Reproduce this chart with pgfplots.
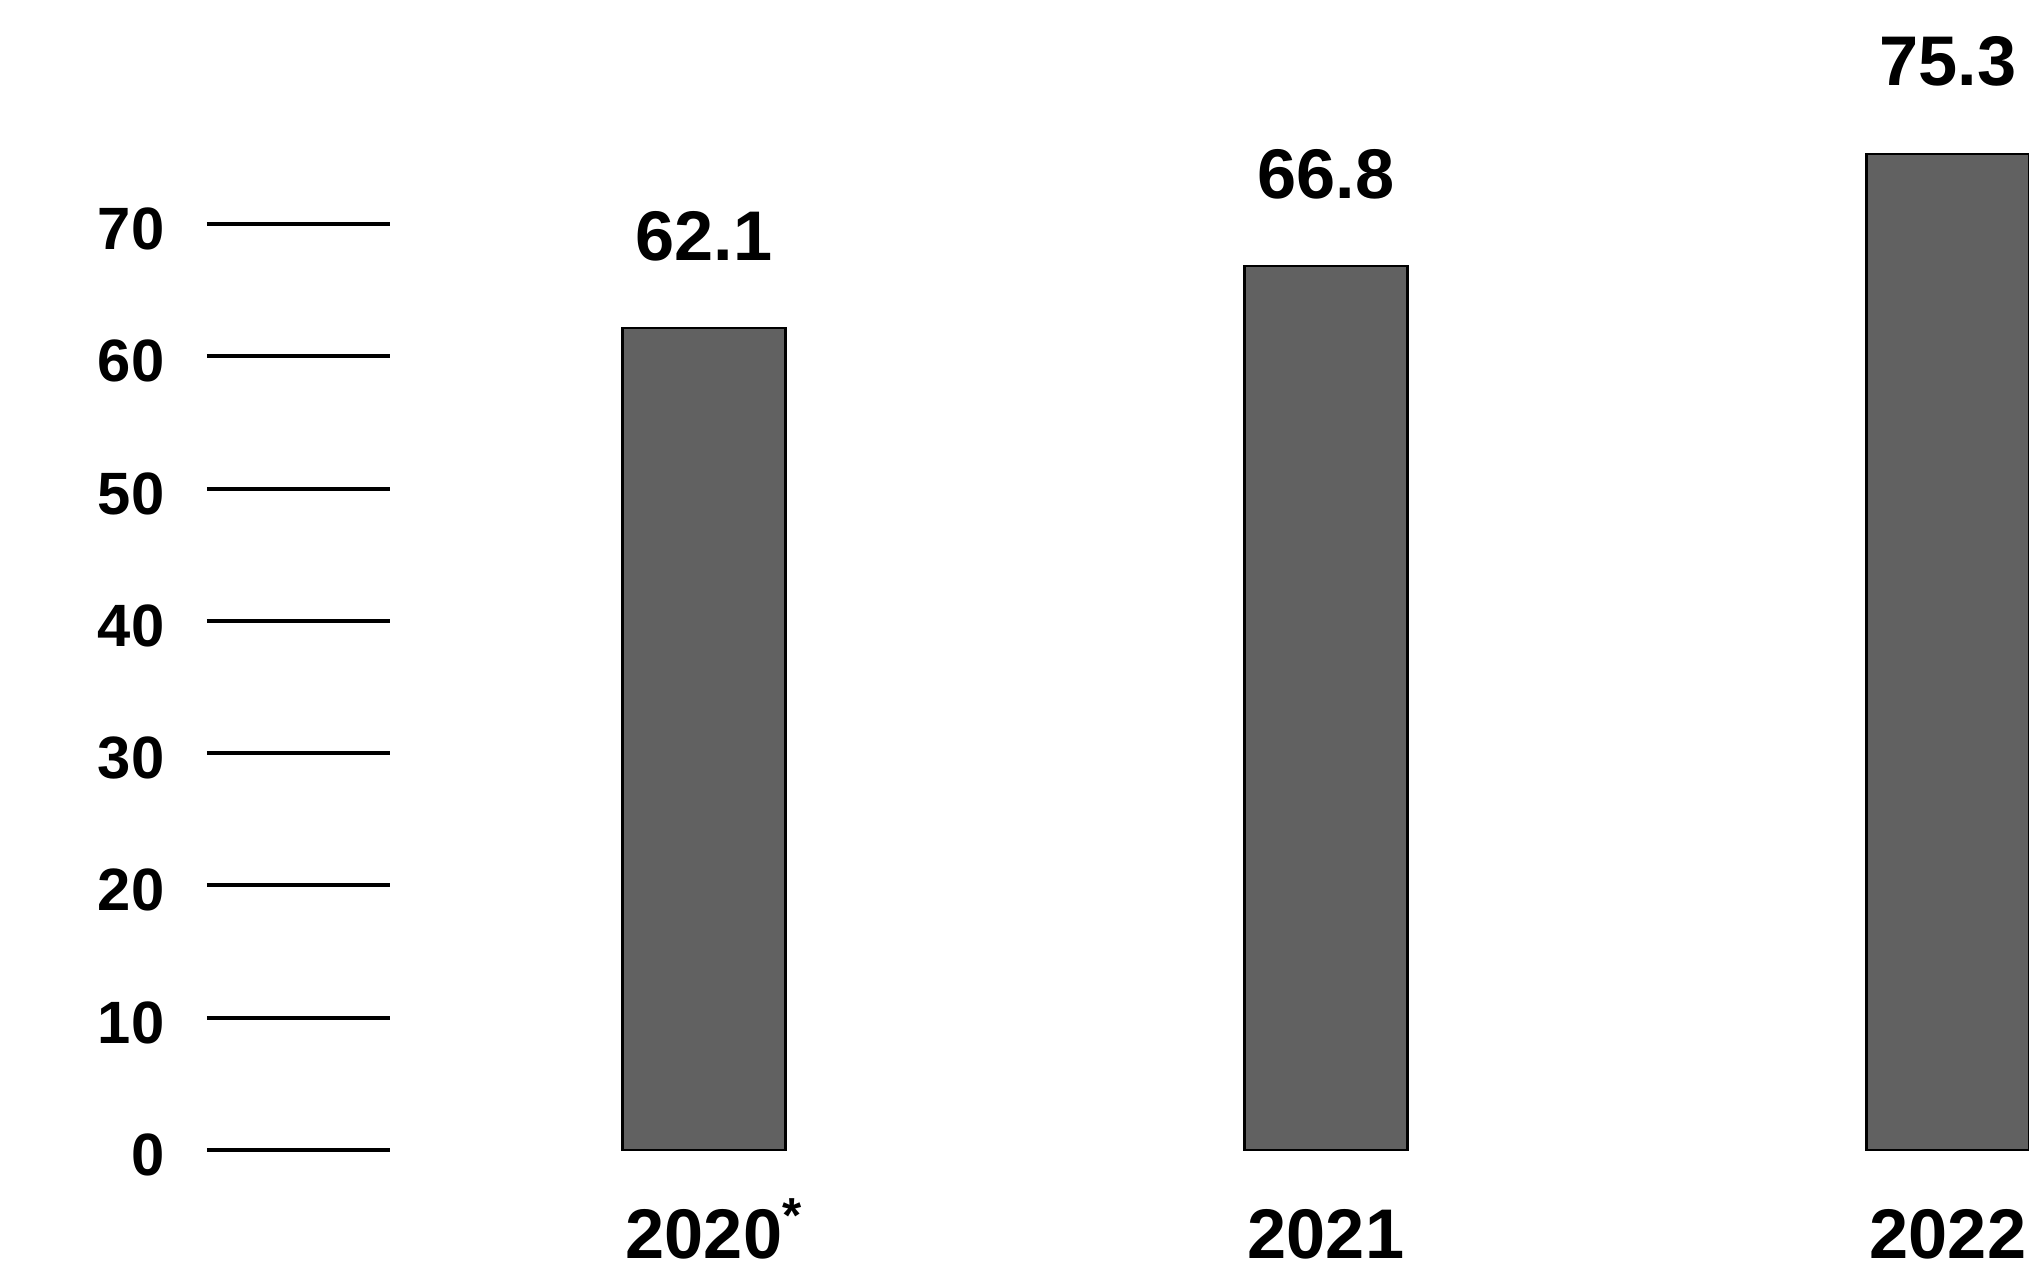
\documentclass[border=0pt]{standalone}
\usepackage{fontspec}
\setmainfont{Liberation Sans}
\usepackage{pgfplots}
\pgfplotsset{compat=1.18}
\definecolor{barfill}{gray}{0.38}

\begin{document}
\begin{tikzpicture}
\useasboundingbox (0,0) rectangle (202.9mm,127.3mm);
\begin{axis}[
  at={(20.7mm,12.3mm)}, anchor=south west,
  scale only axis, width=192.76mm, height=105.84mm,
  xmin=-0.799, xmax=2.3, ymin=0, ymax=80,
  clip=false,
  axis lines*=left,
  axis line style={draw=none},
  ybar, bar width=16.3mm,
  xtick={0,1,2},
  xticklabels={2020\rlap{\textsuperscript{*}},2021,2022},
  xtick style={draw=none},
  xtick align=inside,
  ytick={0,10,...,70},
  ytick align=inside,
  ytick style={draw=black, line width=0.4mm},
  major tick length=18.3mm,
  yticklabel style={anchor=east, inner sep=0pt, xshift=-4.2mm, yshift=-0.5mm,
    font=\fontsize{17}{17}\selectfont\bfseries},
  xticklabel style={anchor=base, inner sep=0pt, yshift=-10.9mm,
    font=\fontsize{20}{20}\selectfont\bfseries},
  /pgf/number format/assume math mode=true,
  nodes near coords,
  every node near coord/.append style={anchor=base, inner sep=0pt, yshift=6.8mm,
    font=\fontsize{20}{20}\selectfont\bfseries, text=black},
]
\addplot[fill=barfill, draw=black, line width=0.6pt] coordinates {
  (0,62.1)
  (1,66.8)
  (2,75.3)
};
\end{axis}
\end{tikzpicture}
\end{document}
